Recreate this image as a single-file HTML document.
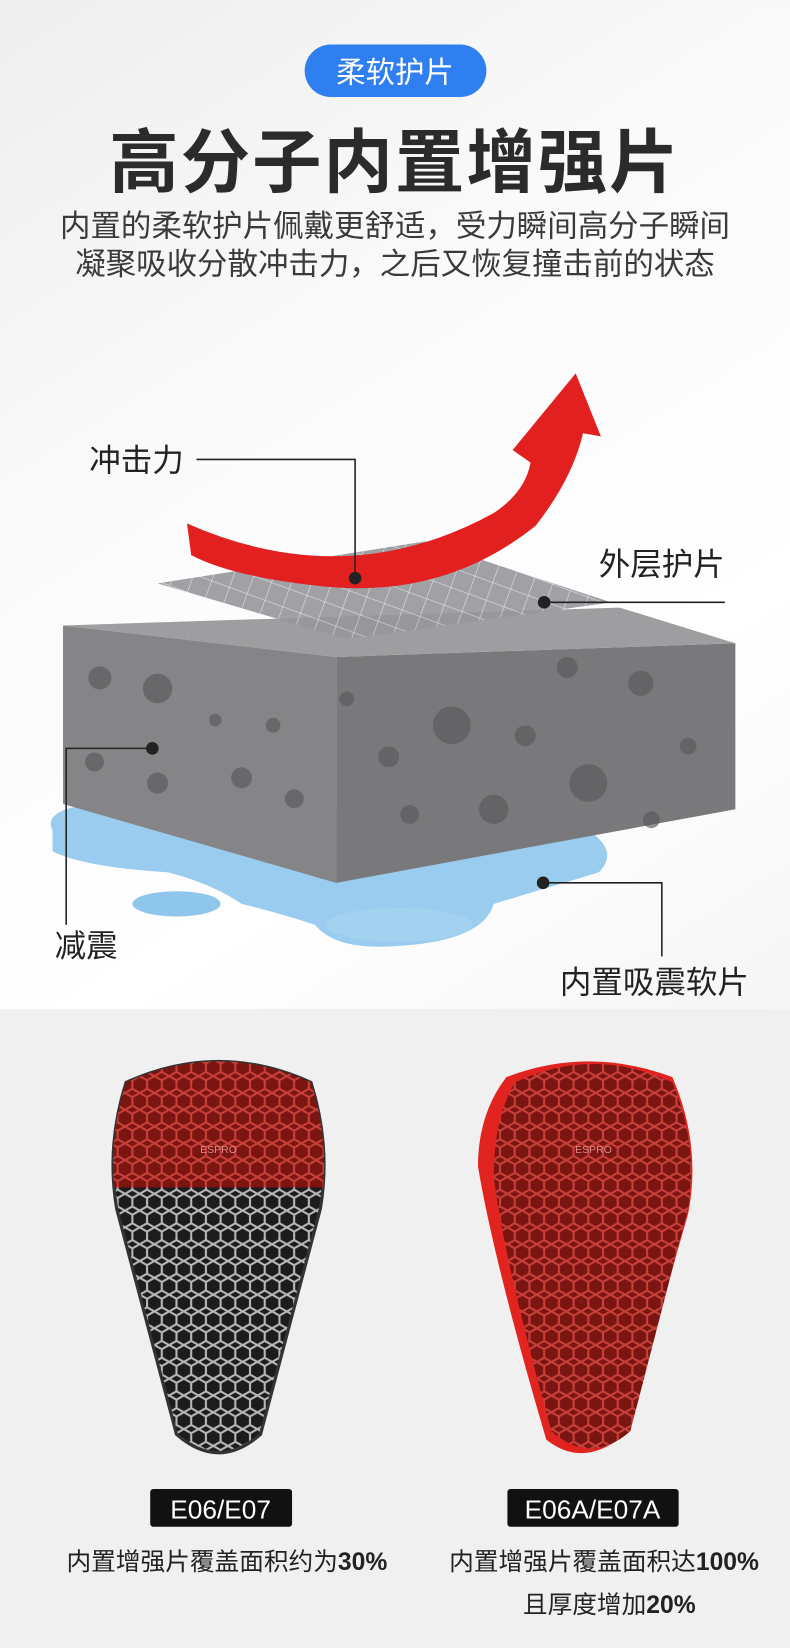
<!DOCTYPE html>
<html><head><meta charset="utf-8">
<style>
html,body{margin:0;padding:0;width:790px;height:1648px;overflow:hidden;background:#f2f2f2;}
svg{display:block}
text{font-family:"Liberation Sans","Noto Sans CJK SC",sans-serif;}
</style></head>
<body>
<svg width="790" height="1648" viewBox="0 0 752 1568" xmlns="http://www.w3.org/2000/svg">
<defs>
<linearGradient id="bg" x1="0" y1="0" x2="0.3" y2="1">
<stop offset="0" stop-color="#eeeeee"/><stop offset="0.3" stop-color="#fafafa"/><stop offset="0.6" stop-color="#ffffff"/><stop offset="1" stop-color="#efefef"/>
</linearGradient>
<pattern id="hexd" width="14" height="16" patternUnits="userSpaceOnUse">
<rect width="14" height="16" fill="#1c1c1c"/>
<path d="M0,4 L7,0 L14,4 L14,12 L7,16 L0,12 Z" fill="none" stroke="#b8b8b8" stroke-width="2"/>
</pattern>
<pattern id="hexr" width="14" height="16" patternUnits="userSpaceOnUse">
<rect width="14" height="16" fill="#7a1512"/>
<path d="M0,4 L7,0 L14,4 L14,12 L7,16 L0,12 Z" fill="none" stroke="#c9403a" stroke-width="2"/>
</pattern>
<pattern id="grid" width="18" height="18" patternUnits="userSpaceOnUse" patternTransform="rotate(20)">
<rect width="18" height="18" fill="#96969b"/>
<path d="M0,0 H18 M0,0 V18" stroke="#d8dce8" stroke-width="1.2"/>
</pattern>
<clipPath id="topclip"><rect x="0" y="990" width="752" height="140"/></clipPath>
</defs>
<rect width="752" height="1568" fill="url(#bg)"/>
<rect x="0" y="960" width="752" height="608" fill="#f0f0f0"/>

<rect x="290" y="42" width="173" height="50" rx="25" fill="#2f7ff0"/>
<text x="376" y="78" font-size="28" fill="#fff" text-anchor="middle">柔软护片</text>
<text x="376" y="177" font-size="66" font-weight="bold" fill="#2b2b2b" text-anchor="middle" letter-spacing="2">高分子内置增强片</text>
<text x="376" y="225" font-size="29" fill="#3a3a3a" text-anchor="middle">内置的柔软护片佩戴更舒适，受力瞬间高分子瞬间</text>
<text x="376" y="261" font-size="29" fill="#3a3a3a" text-anchor="middle">凝聚吸收分散冲击力，之后又恢复撞击前的状态</text>

<!-- water -->
<path d="M50,790 Q40,770 90,765 L300,770 Q420,775 560,790 Q590,810 570,830 Q520,845 470,860 Q460,895 380,900 Q320,905 300,880 Q270,870 230,860 Q200,840 160,830 Q80,825 50,810 Z" fill="#8ec6ec" opacity="0.9"/>
<ellipse cx="168" cy="860" rx="42" ry="12" fill="#8ec6ec"/>
<ellipse cx="380" cy="880" rx="70" ry="16" fill="#a3d2f0"/>
<!-- block -->
<polygon points="60,595 320,625 320,840 60,765" fill="#858587"/>
<polygon points="320,625 700,612 700,770 320,840" fill="#79797b"/>
<polygon points="60,595 590,578 700,612 320,625" fill="#9e9da0"/>
<g fill="#59595b" opacity="0.65">
<circle cx="95" cy="645" r="11"/><circle cx="150" cy="655" r="14"/><circle cx="205" cy="685" r="6"/><circle cx="150" cy="745" r="10"/><circle cx="90" cy="725" r="9"/><circle cx="230" cy="740" r="10"/><circle cx="280" cy="760" r="9"/><circle cx="260" cy="690" r="7"/>
<circle cx="430" cy="690" r="18"/><circle cx="500" cy="700" r="10"/><circle cx="370" cy="720" r="10"/><circle cx="560" cy="745" r="18"/><circle cx="610" cy="650" r="12"/><circle cx="655" cy="710" r="8"/><circle cx="470" cy="770" r="14"/><circle cx="390" cy="775" r="9"/><circle cx="540" cy="635" r="10"/><circle cx="330" cy="665" r="7"/><circle cx="620" cy="780" r="8"/>
</g>
<!-- mesh sheet -->
<polygon points="150,555 405,515 582,573 330,608" fill="url(#grid)" opacity="0.9"/>
<!-- arrow -->
<path d="M178,498 Q330,565 470,488 Q500,468 505,440 L488,428 L548,355 L572,415 L555,412 Q545,455 510,500 Q420,572 300,557 Q220,548 182,528 Z" fill="#e2201f"/>

<!-- labels -->
<g stroke="#222" stroke-width="1.5" fill="none">
<polyline points="187,437 338,437 338,550"/>
<polyline points="518,573 690,573"/>
<polyline points="63,880 63,712 145,712"/>
<polyline points="517,840 630,840 630,910"/>
</g>
<g fill="#222"><circle cx="338" cy="550" r="6"/><circle cx="518" cy="573" r="6"/><circle cx="145" cy="712" r="6"/><circle cx="517" cy="840" r="6"/></g>
<g font-size="30" fill="#222">
<text x="85" y="448">冲击力</text>
<text x="570" y="547">外层护片</text>
<text x="52" y="910">减震</text>
<text x="533" y="945">内置吸震软片</text>
</g>

<!-- left pad -->
<path d="M120,1030 Q208,990 296,1030 Q315,1090 305,1150 L248,1365 Q208,1400 168,1365 L111,1150 Q101,1090 120,1030 Z" fill="url(#hexd)" stroke="#333" stroke-width="3"/>
<path clip-path="url(#topclip)" d="M120,1030 Q208,990 296,1030 Q315,1090 305,1150 L248,1365 Q208,1400 168,1365 L111,1150 Q101,1090 120,1030 Z" fill="url(#hexr)"/>
<text x="208" y="1097" font-size="10" fill="#d88" text-anchor="middle">ESPRO</text>
<!-- right pad -->
<path d="M482,1025 Q560,995 640,1025 Q668,1090 655,1155 L595,1365 Q555,1398 520,1370 Q470,1200 455,1110 Q455,1060 482,1025 Z" fill="#e22420"/>
<path d="M490,1030 Q565,995 640,1030 Q665,1090 655,1150 L600,1362 Q562,1395 525,1362 Q480,1200 470,1120 Q470,1065 490,1030 Z" fill="url(#hexr)"/>
<text x="565" y="1097" font-size="10" fill="#d88" text-anchor="middle">ESPRO</text>

<rect x="143" y="1417" width="135" height="36" rx="3" fill="#111"/>
<text x="210" y="1445" font-size="25" fill="#fff" text-anchor="middle">E06/E07</text>
<rect x="483" y="1417" width="163" height="36" rx="3" fill="#111"/>
<text x="564" y="1445" font-size="25" fill="#fff" text-anchor="middle">E06A/E07A</text>
<text x="216" y="1494" font-size="23.5" fill="#222" text-anchor="middle">内置增强片覆盖面积约为<tspan font-weight="bold">30%</tspan></text>
<text x="575" y="1494" font-size="23.5" fill="#222" text-anchor="middle">内置增强片覆盖面积达<tspan font-weight="bold">100%</tspan></text>
<text x="580" y="1535" font-size="23.5" fill="#222" text-anchor="middle">且厚度增加<tspan font-weight="bold">20%</tspan></text>
</svg>
</body></html>
